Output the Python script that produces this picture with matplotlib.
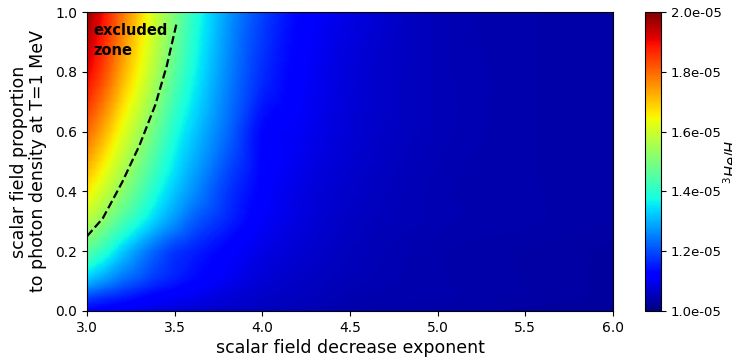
import numpy as np
import matplotlib
matplotlib.use("Agg")
import matplotlib.pyplot as plt
import matplotlib.tri as mtri
from matplotlib.ticker import FormatStrFormatter

# grid nodes
exponent = [3.0, 3.1, 3.2, 3.3, 3.4, 3.5, 3.6, 3.8, 4.0, 4.25, 4.5, 5.0, 5.5, 6.0]
proportion = [0.0, 0.05, 0.1, 0.2, 0.3, 0.4, 0.6, 0.8, 1.0]

# 3He/H above 1e-5, in units of 1e-5 (rows follow `proportion`)
he3_y000 = [.12, .11, .10, .09, .085, .08, .075, .065, .055, .05, .04, .035, .03, .03]
he3_y005 = [.20, .18, .16, .14, .12, .11, .10, .08, .065, .055, .045, .04, .035, .03]
he3_y010 = [.31, .27, .23, .20, .17, .15, .13, .10, .075, .06, .05, .04, .035, .03]
he3_y020 = [.46, .40, .33, .27, .22, .18, .16, .12, .09, .07, .055, .04, .035, .03]
he3_y030 = [.57, .51, .44, .38, .32, .27, .22, .16, .11, .08, .06, .045, .04, .035]
he3_y040 = [.66, .59, .52, .45, .38, .32, .27, .18, .12, .085, .065, .045, .04, .035]
he3_y060 = [.80, .72, .63, .55, .47, .39, .33, .23, .13, .10, .075, .05, .04, .035]
he3_y080 = [.91, .83, .73, .64, .55, .46, .38, .26, .17, .11, .08, .05, .04, .035]
he3_y100 = [.98, .89, .79, .69, .59, .50, .41, .28, .19, .12, .09, .05, .04, .035]

# excluded-zone boundary (dashed)
limit_x = [3.0, 3.09, 3.2, 3.3, 3.39, 3.455, 3.51]
limit_y = [0.25, 0.31, 0.43, 0.555, 0.69, 0.82, 0.96]

cbar_ticks = [1.0e-5, 1.2e-5, 1.4e-5, 1.6e-5, 1.8e-5, 2.0e-5]

rows = [he3_y000, he3_y005, he3_y010, he3_y020, he3_y030,
        he3_y040, he3_y060, he3_y080, he3_y100]
Z = (1.0 + np.array(rows)) * 1e-5

# smooth surface through the table nodes (matplotlib's tri refiner)
X, Y = np.meshgrid(exponent, proportion)
tri = mtri.Triangulation(X.ravel(), Y.ravel())
refiner = mtri.UniformTriRefiner(tri)
interp = mtri.CubicTriInterpolator(tri, Z.ravel(), kind="geom")
tri_f, z_f = refiner.refine_field(Z.ravel(), triinterpolator=interp, subdiv=4)
z_f = np.clip(z_f, 1e-5, 2e-5)

fig = plt.figure(figsize=(7.32, 3.57), dpi=100)
ax = fig.add_axes([87 / 732, 46 / 357, 526 / 732, 299 / 357])
cax = fig.add_axes([645 / 732, 46 / 357, 16 / 732, 299 / 357])

mesh = ax.tripcolor(tri_f, z_f, cmap="jet", shading="gouraud", vmin=1e-5, vmax=2e-5)
ax.plot(limit_x, limit_y, "k--", lw=1.6)
ax.text(3.035, 0.962, "excluded\nzone", fontsize=10.5, fontweight="bold",
        va="top", ha="left", linespacing=1.35)

ax.set_xlim(3.0, 6.0)
ax.set_ylim(0.0, 1.0)
ax.set_xticks([3.0, 3.5, 4.0, 4.5, 5.0, 5.5, 6.0])
ax.set_yticks([0.0, 0.2, 0.4, 0.6, 0.8, 1.0])
ax.tick_params(labelsize=10)
ax.set_xlabel("scalar field decrease exponent", fontsize=12.5, labelpad=3)
ax.set_ylabel("scalar field proportion\nto photon density at T=1 MeV",
              fontsize=12.5, labelpad=6, linespacing=1.1)

cb = fig.colorbar(mesh, cax=cax, ticks=cbar_ticks)
cb.ax.yaxis.set_major_formatter(FormatStrFormatter("%.1e"))
cb.ax.tick_params(labelsize=9.5)
cb.set_label("$^3He/H$", fontsize=10.5)
cb.ax.yaxis.set_label_coords(4.75, 0.5)

fig.savefig("out.png", dpi=100)
